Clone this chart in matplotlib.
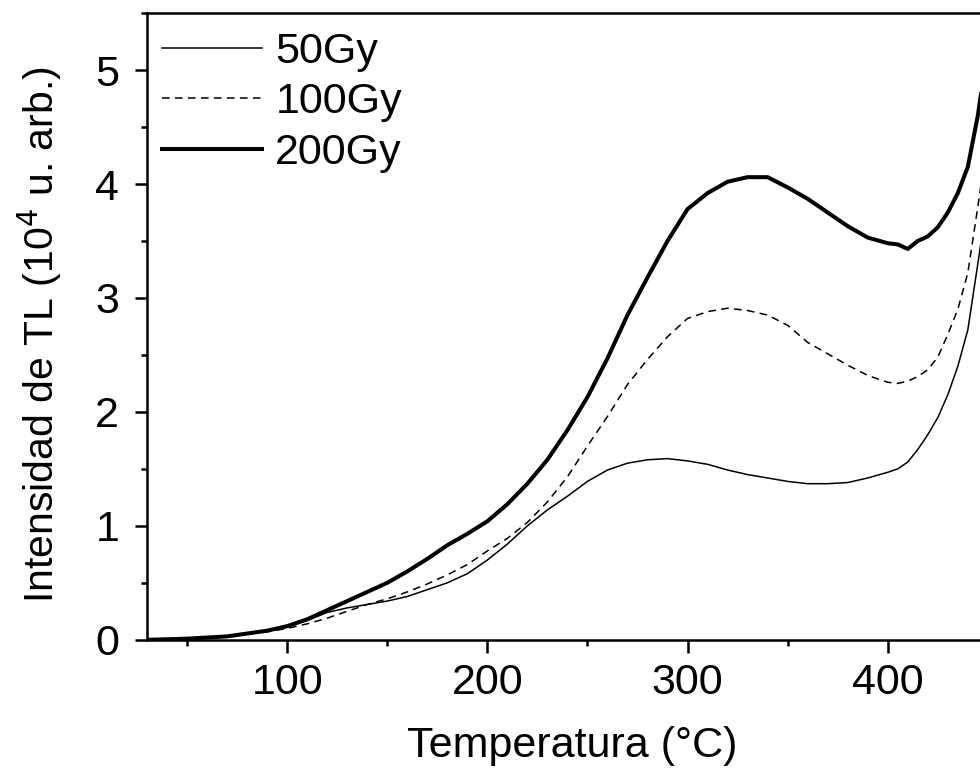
import numpy as np
import matplotlib.pyplot as plt
from matplotlib.ticker import MultipleLocator

plt.rcParams['font.family'] = ['Liberation Sans', 'DejaVu Sans']

temp = [30, 50, 70, 90, 100, 110, 120, 130, 140, 150, 160, 170, 180, 190, 200,
        210, 220, 230, 240, 250, 260, 270, 280, 290, 300, 310, 320, 330, 340, 350,
        360, 370, 380, 390, 400, 405, 410, 415, 420, 425, 430, 435, 440, 445, 450]

gy50 = [0.0, 0.01, 0.03, 0.08, 0.11, 0.17, 0.24, 0.28, 0.31, 0.34, 0.38, 0.44, 0.50, 0.58, 0.70,
        0.84, 1.00, 1.14, 1.26, 1.39, 1.49, 1.55, 1.58, 1.59, 1.57, 1.54, 1.49, 1.45, 1.42, 1.39,
        1.37, 1.37, 1.38, 1.42, 1.47, 1.50, 1.56, 1.67, 1.80, 1.95, 2.15, 2.40, 2.72, 3.30, 3.90]

gy100 = [0.0, 0.01, 0.03, 0.07, 0.10, 0.14, 0.19, 0.25, 0.31, 0.36, 0.42, 0.49, 0.57, 0.66, 0.78,
         0.89, 1.03, 1.21, 1.43, 1.70, 1.96, 2.24, 2.46, 2.66, 2.82, 2.88, 2.91, 2.89, 2.85, 2.76,
         2.61, 2.51, 2.41, 2.32, 2.26, 2.25, 2.27, 2.31, 2.37, 2.48, 2.68, 2.90, 3.22, 3.80, 4.40]

gy200 = [0.0, 0.01, 0.03, 0.08, 0.12, 0.18, 0.26, 0.34, 0.42, 0.50, 0.60, 0.71, 0.83, 0.93, 1.04,
         1.19, 1.37, 1.58, 1.84, 2.13, 2.47, 2.85, 3.18, 3.50, 3.78, 3.92, 4.02, 4.06, 4.06, 3.97,
         3.87, 3.75, 3.63, 3.53, 3.48, 3.47, 3.43, 3.50, 3.54, 3.62, 3.75, 3.92, 4.15, 4.60, 5.20]

fig = plt.figure(figsize=(9.8, 7.69), dpi=100)
ax = fig.add_axes([0.150, 0.168, 0.858, 0.815])

ax.plot(temp, gy50, color='black', lw=1.1, label='50Gy')
ax.plot(temp, gy100, color='black', lw=1.1, dashes=(5, 3.5), label='100Gy')
ax.plot(temp, gy200, color='black', lw=2.9, label='200Gy')

ax.set_xlim(30, 450)
ax.set_ylim(0, 5.5)
ax.xaxis.set_major_locator(MultipleLocator(100))
ax.xaxis.set_minor_locator(MultipleLocator(50))
ax.yaxis.set_major_locator(MultipleLocator(1))
ax.yaxis.set_minor_locator(MultipleLocator(0.5))
ax.tick_params(which='major', direction='out', length=9, width=1.8, labelsize=31)
ax.tick_params(which='minor', direction='out', length=4, width=1.8)
ax.tick_params(axis='x', which='major', pad=8)
ax.tick_params(axis='y', which='major', pad=11)
for s in ax.spines.values():
    s.set_linewidth(1.8)
ax.spines['right'].set_visible(False)

ax.set_xlabel('Temperatura (°C)', fontsize=31)
ax.set_ylabel('Intensidad de TL (10$^4$ u. arb.)', fontsize=29.5)
ax.xaxis.set_label_coords(0.506, -0.137)
ax.yaxis.set_label_coords(-0.099, 0.487)

ax.legend(loc='upper left', bbox_to_anchor=(0, 0.994), frameon=False, fontsize=31,
          handlelength=2.33, handletextpad=0.3, labelspacing=0.24,
          borderaxespad=0.0, borderpad=0.35)

fig.savefig('out.png', dpi=100)
